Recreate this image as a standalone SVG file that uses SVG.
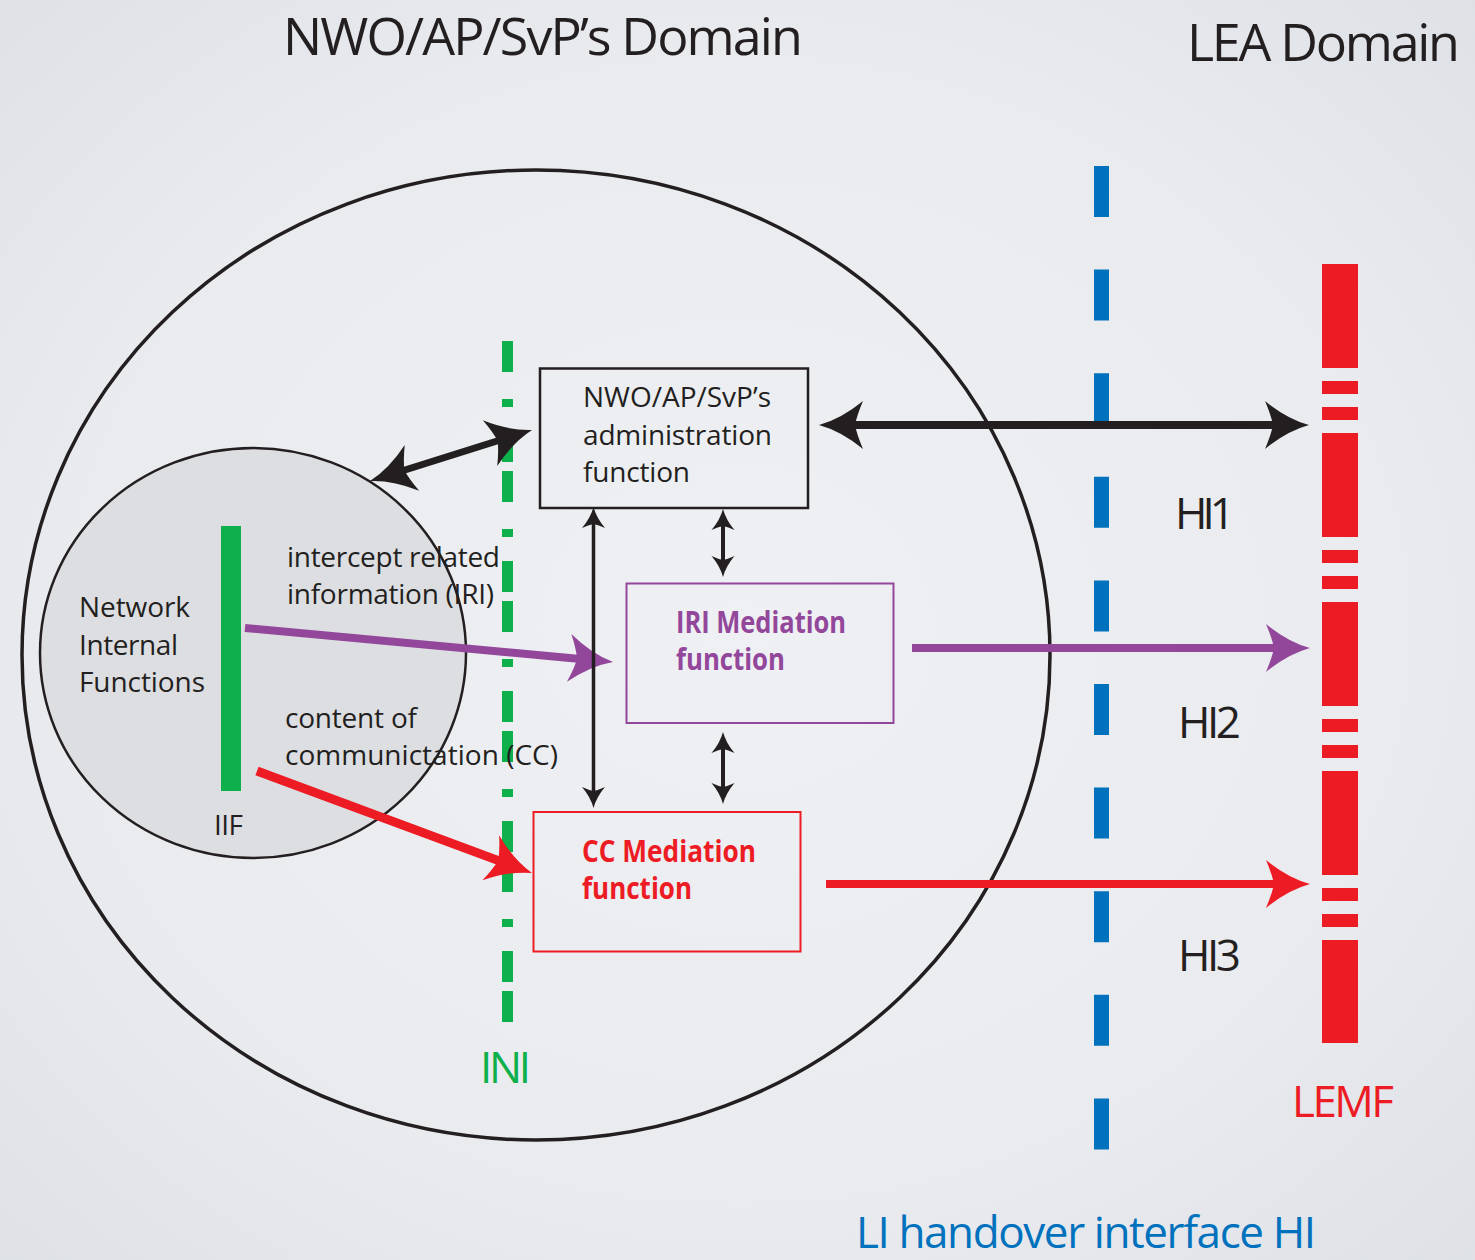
<svg xmlns="http://www.w3.org/2000/svg" width="1475" height="1260" viewBox="0 0 1475 1260">
  <defs>
    <radialGradient id="bg" cx="50%" cy="50%" r="75%">
      <stop offset="0" stop-color="#eef0f3"/>
      <stop offset="0.6" stop-color="#e9ebef"/>
      <stop offset="1" stop-color="#dcdfe4"/>
    </radialGradient>
    <marker id="hk" markerUnits="userSpaceOnUse" viewBox="0 -25 46 50" markerWidth="46" markerHeight="50" refX="14" refY="0" orient="auto-start-reverse" overflow="visible">
      <path d="M44,0 Q22,-6 0,-24 Q6,-10 8,0 Q6,10 0,24 Q22,6 44,0 Z" fill="#231f20"/>
    </marker>
    <marker id="hp" markerUnits="userSpaceOnUse" viewBox="0 -25 46 50" markerWidth="46" markerHeight="50" refX="14" refY="0" orient="auto-start-reverse" overflow="visible">
      <path d="M44,0 Q22,-6 0,-24 Q6,-10 8,0 Q6,10 0,24 Q22,6 44,0 Z" fill="#93479b"/>
    </marker>
    <marker id="hr" markerUnits="userSpaceOnUse" viewBox="0 -25 46 50" markerWidth="46" markerHeight="50" refX="14" refY="0" orient="auto-start-reverse" overflow="visible">
      <path d="M44,0 Q22,-6 0,-24 Q6,-10 8,0 Q6,10 0,24 Q22,6 44,0 Z" fill="#ed1c24"/>
    </marker>
    <marker id="sk" markerUnits="userSpaceOnUse" viewBox="0 -12 22 24" markerWidth="22" markerHeight="24" refX="6" refY="0" orient="auto-start-reverse" overflow="visible">
      <path d="M21,0 Q10,-3 0,-11.5 Q3,-5 4,0 Q3,5 0,11.5 Q10,3 21,0 Z" fill="#231f20"/>
    </marker>
  </defs>
  <style>
    text { font-family: "Open Sans", "Noto Sans", "DejaVu Sans", sans-serif; fill: #231f20; }
    .t { font-size: 28px; }
    .big { font-size: 52px; }
    .hi { font-size: 44px; }
    .bold { font-size: 30px; font-weight: bold; }
  </style>

  <rect x="0" y="0" width="1475" height="1260" fill="url(#bg)"/>

  <g id="domain-titles">
    <text class="big" x="283" y="55" textLength="520">NWO/AP/SvP’s Domain</text>
    <text class="big" x="1187" y="61" textLength="273">LEA Domain</text>
  </g>

  <g id="nwo-domain">
    <ellipse cx="536" cy="655" rx="514" ry="485" fill="none" stroke="#231f20" stroke-width="3.5"/>
  </g>

  <g id="network-internal-functions">
    <ellipse cx="253" cy="653" rx="213" ry="205" fill="#dddee2" stroke="#231f20" stroke-width="2.5"/>
    <text class="t" x="79" y="617" textLength="111">Network</text>
    <text class="t" x="79" y="655" textLength="99">Internal</text>
    <text class="t" x="79" y="692" textLength="126">Functions</text>
  </g>

  <g id="iif">
    <rect x="221" y="526" width="20" height="265" fill="#0db04b"/>
    <text class="t" x="214" y="835" textLength="29">IIF</text>
  </g>

  <g id="ini">
    <line x1="507.5" y1="341" x2="507.5" y2="1022" stroke="#0db04b" stroke-width="11" stroke-dasharray="31 27 8 24 31 9"/>
    <text class="hi" x="480" y="1083" textLength="51" style="fill:#0db04b">INI</text>
  </g>

  <g id="hi">
    <line x1="1101.5" y1="166" x2="1101.5" y2="1152" stroke="#0071bc" stroke-width="15" stroke-dasharray="51 52.6"/>
    <text class="hi" x="856" y="1248" textLength="460" style="fill:#0071bc">LI handover interface HI</text>
    <text class="hi" x="1175" y="529" textLength="60">HI1</text>
    <text class="hi" x="1178" y="738" textLength="63">HI2</text>
    <text class="hi" x="1178" y="971" textLength="63">HI3</text>
  </g>

  <g id="lemf">
    <line x1="1340" y1="264" x2="1340" y2="1043" stroke="#ed1c24" stroke-width="36" stroke-dasharray="104 13 13 13 13 13"/>
    <text class="hi" x="1292" y="1117" textLength="102" style="fill:#ed1c24">LEMF</text>
  </g>

  <g id="admin-function">
    <rect x="540" y="368.5" width="268" height="139.5" fill="none" stroke="#231f20" stroke-width="2.5"/>
    <text class="t" x="583" y="407" textLength="188">NWO/AP/SvP’s</text>
    <text class="t" x="583" y="445" textLength="189">administration</text>
    <text class="t" x="583" y="482" textLength="107">function</text>
  </g>

  <g id="iri-mediation-function">
    <rect x="626.5" y="583.5" width="267" height="139.5" fill="none" stroke="#93479b" stroke-width="2"/>
    <text class="bold" x="676" y="633" textLength="170" lengthAdjust="spacingAndGlyphs" style="fill:#93479b">IRI Mediation</text>
    <text class="bold" x="676" y="670" textLength="109" lengthAdjust="spacingAndGlyphs" style="fill:#93479b">function</text>
  </g>

  <g id="cc-mediation-function">
    <rect x="533.5" y="812" width="267" height="139.5" fill="none" stroke="#ed1c24" stroke-width="2"/>
    <text class="bold" x="582" y="862" textLength="174" lengthAdjust="spacingAndGlyphs" style="fill:#ed1c24">CC Mediation</text>
    <text class="bold" x="582" y="899" textLength="110" lengthAdjust="spacingAndGlyphs" style="fill:#ed1c24">function</text>
  </g>

  <g id="flow-labels">
    <text class="t" x="287" y="567" textLength="213">intercept related</text>
    <text class="t" x="287" y="604" textLength="207">information (IRI)</text>
    <text class="t" x="285" y="728" textLength="132">content of</text>
    <text class="t" x="285" y="765" textLength="273">communictation (CC)</text>
  </g>

  <g id="connectors" fill="none">
    <line x1="398.6" y1="472" x2="503.4" y2="439" stroke="#231f20" stroke-width="7" marker-start="url(#hk)" marker-end="url(#hk)"/>
    <line x1="849" y1="425" x2="1279" y2="425" stroke="#231f20" stroke-width="8" marker-start="url(#hk)" marker-end="url(#hk)"/>
    <line x1="245" y1="628" x2="583.1" y2="659.2" stroke="#93479b" stroke-width="8" marker-end="url(#hp)"/>
    <line x1="912" y1="648" x2="1280" y2="648" stroke="#93479b" stroke-width="8" marker-end="url(#hp)"/>
    <line x1="257" y1="771" x2="503.9" y2="862.6" stroke="#ed1c24" stroke-width="9" marker-end="url(#hr)"/>
    <line x1="826" y1="884" x2="1280" y2="884" stroke="#ed1c24" stroke-width="8" marker-end="url(#hr)"/>
    <line x1="593.5" y1="522" x2="593.5" y2="793" stroke="#231f20" stroke-width="3.5" marker-start="url(#sk)" marker-end="url(#sk)"/>
    <line x1="723" y1="524" x2="723" y2="562" stroke="#231f20" stroke-width="4" marker-start="url(#sk)" marker-end="url(#sk)"/>
    <line x1="723" y1="747" x2="723" y2="789" stroke="#231f20" stroke-width="4" marker-start="url(#sk)" marker-end="url(#sk)"/>
  </g>
</svg>
